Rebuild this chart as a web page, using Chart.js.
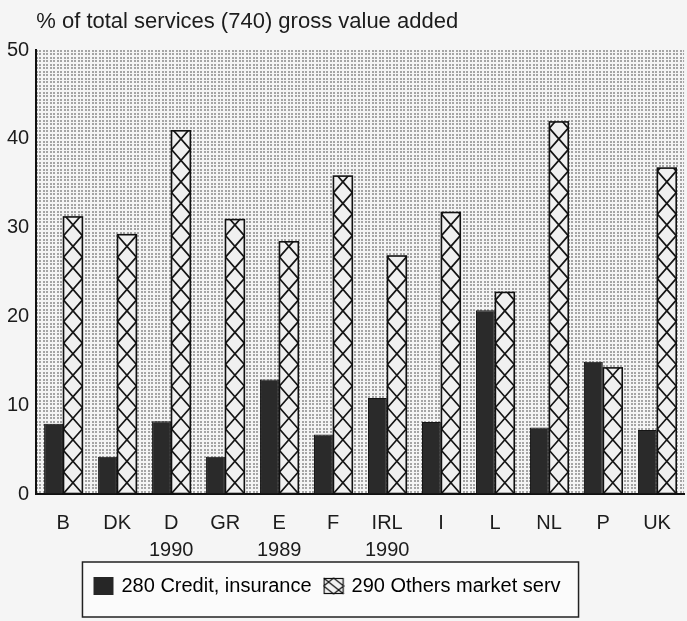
<!DOCTYPE html>
<html>
<head>
<meta charset="utf-8">
<script src="https://cdn.jsdelivr.net/npm/chart.js@4.4.1/dist/chart.umd.min.js"></script>
<style>
  html, body { margin: 0; padding: 0; background: #f5f5f5; }
  #chart { display: block; }
</style>
</head>
<body>
<canvas id="chart" width="687" height="621"></canvas>
<script>
// data
const countries = ['B', 'DK', 'D', 'GR', 'E', 'F', 'IRL', 'I', 'L', 'NL', 'P', 'UK'];
const refYears = ['', '', '1990', '', '1989', '', '1990', '', '', '', '', ''];
const credit = [7.9, 4.2, 8.2, 4.2, 12.9, 6.7, 10.8, 8.1, 20.7, 7.5, 14.9, 7.2];
const others = [31.2, 29.2, 40.9, 30.9, 28.4, 35.8, 26.8, 31.7, 22.7, 41.9, 14.2, 36.7];
const seriesNames = ['280 Credit, insurance', '290 Others market serv'];
const titleText = '% of total services (740) gross value added';

const labels = countries.map((c, i) => refYears[i] ? [c, refYears[i]] : c);

Chart.defaults.font.family = '"Liberation Sans", Arial, sans-serif';
Chart.defaults.color = '#1c1c1c';

// dotted plot background (dots every ~3.5px)
const dotTile = document.createElement('canvas');
dotTile.width = 7; dotTile.height = 7;
const dt = dotTile.getContext('2d');
dt.fillStyle = '#f4f4f4';
dt.fillRect(0, 0, 7, 7);
dt.fillStyle = '#a4a4a4';
[[1, 1], [4, 1], [1, 4], [4, 4]].forEach(([x, y]) => dt.fillRect(x, y, 2, 2));

// draws X lattice inside a rect
function crossHatch(g, left, top, w, h, base) {
  const p = w * 1.14;
  g.save();
  g.beginPath();
  g.rect(left, top, w, h);
  g.clip();
  g.strokeStyle = '#151515';
  g.lineWidth = 1.7;
  g.beginPath();
  for (let y = base; y > top - p; y -= p) {
    g.moveTo(left, y); g.lineTo(left + w, y - p);
    g.moveTo(left, y - p); g.lineTo(left + w, y);
  }
  g.stroke();
  g.restore();
}

function legendIcon(hatched) {
  const c = document.createElement('canvas');
  c.width = 22; c.height = 18;
  const g = c.getContext('2d');
  if (hatched) {
    g.fillStyle = '#f2f2f2';
    g.fillRect(1, 1, 20, 16);
    g.strokeStyle = '#111';
    g.lineWidth = 1.2;
    g.beginPath();
    g.moveTo(1, 9); g.lineTo(11, 1); g.lineTo(21, 9); g.lineTo(11, 17); g.closePath();
    g.moveTo(1, 1); g.lineTo(21, 17);
    g.stroke();
    g.strokeRect(1.5, 1.5, 19, 15);
  } else {
    g.fillStyle = '#262626';
    g.fillRect(1, 0, 20, 18);
  }
  return c;
}

const plotBackground = {
  id: 'plotBackground',
  beforeDraw(chart) {
    const {ctx, chartArea: a} = chart;
    ctx.save();
    ctx.fillStyle = ctx.createPattern(dotTile, 'repeat');
    ctx.fillRect(a.left, a.top, a.right - a.left, a.bottom - a.top);
    ctx.restore();
  }
};

const hatchBars = {
  id: 'hatchBars',
  afterDatasetsDraw(chart) {
    const meta = chart.getDatasetMeta(1);
    const ctx = chart.ctx;
    meta.data.forEach(bar => {
      const left = bar.x - bar.width / 2;
      crossHatch(ctx, left, bar.y, bar.width, bar.base - bar.y, bar.base);
      ctx.save();
      ctx.strokeStyle = '#111';
      ctx.lineWidth = 1.6;
      ctx.strokeRect(left, bar.y, bar.width, bar.base - bar.y);
      ctx.restore();
    });
  }
};

const chartTitle = {
  id: 'chartTitle',
  afterDraw(chart) {
    const ctx = chart.ctx;
    ctx.save();
    ctx.font = '22px "Liberation Sans", Arial, sans-serif';
    ctx.fillStyle = '#1c1c1c';
    ctx.textBaseline = 'middle';
    ctx.fillText(titleText, chart.chartArea.left, 22);
    ctx.restore();
  }
};

// nudge the legend so it sits just under the year labels, a bit left of centre
const legendNudge = {
  id: 'legendNudge',
  afterLayout(chart) {
    const lg = chart.legend;
    lg.left -= 15; lg.right -= 15;
    lg.top -= 18; lg.bottom -= 18;
  }
};

const legendFrame = {
  id: 'legendFrame',
  afterDraw(chart) {
    const hb = chart.legend.legendHitBoxes;
    if (!hb || !hb.length) return;
    const last = hb[hb.length - 1];
    const cy = hb[0].top + hb[0].height / 2;
    const left = hb[0].left - 13;
    const right = last.left + last.width + 18;
    const top = cy - 24;
    const bottom = cy + 31;
    const ctx = chart.ctx;
    ctx.save();
    ctx.fillStyle = '#fbfbfb';
    ctx.strokeStyle = '#222';
    ctx.lineWidth = 1.5;
    ctx.globalCompositeOperation = 'destination-over';
    ctx.fillRect(left, top, right - left, bottom - top);
    ctx.globalCompositeOperation = 'source-over';
    ctx.strokeRect(left, top, right - left, bottom - top);
    ctx.restore();
  }
};

new Chart(document.getElementById('chart'), {
  type: 'bar',
  data: {
    labels: labels,
    datasets: [
      {
        label: seriesNames[0],
        data: credit,
        backgroundColor: '#2a2a2a',
        borderColor: '#151515',
        borderWidth: 1,
        categoryPercentage: 0.72,
        barPercentage: 0.97
      },
      {
        label: seriesNames[1],
        data: others,
        backgroundColor: '#f0f0f0',
        borderWidth: 0,
        categoryPercentage: 0.72,
        barPercentage: 0.97
      }
    ]
  },
  options: {
    responsive: false,
    animation: false,
    layout: { padding: { top: 50, left: 0, right: 1, bottom: -3 } },
    plugins: {
      title: { display: false },
      tooltip: { enabled: false },
      legend: {
        position: 'bottom',
        labels: {
          font: { size: 20 },
          color: '#1c1c1c',
          usePointStyle: true,
          boxWidth: 16,
          padding: 14,
          generateLabels(chart) {
            return chart.data.datasets.map((ds, i) => ({
              text: ds.label,
              datasetIndex: i,
              pointStyle: legendIcon(i === 1),
              fillStyle: 'transparent',
              strokeStyle: 'transparent',
              lineWidth: 0,
              hidden: false
            }));
          }
        }
      }
    },
    scales: {
      x: {
        grid: { display: true, drawOnChartArea: false, drawTicks: false },
        border: { display: true, color: '#111', width: 2 },
        ticks: {
          font: { size: 20, lineHeight: 1.35 },
          color: '#1c1c1c',
          padding: 16,
          maxRotation: 0,
          autoSkip: false
        }
      },
      y: {
        min: 0,
        max: 50,
        grid: { display: true, drawOnChartArea: false, drawTicks: false },
        border: { display: true, color: '#111', width: 2 },
        ticks: {
          stepSize: 10,
          font: { size: 20 },
          color: '#1c1c1c',
          padding: 7
        }
      }
    }
  },
  plugins: [plotBackground, hatchBars, chartTitle, legendNudge, legendFrame]
});
</script>
</body>
</html>
